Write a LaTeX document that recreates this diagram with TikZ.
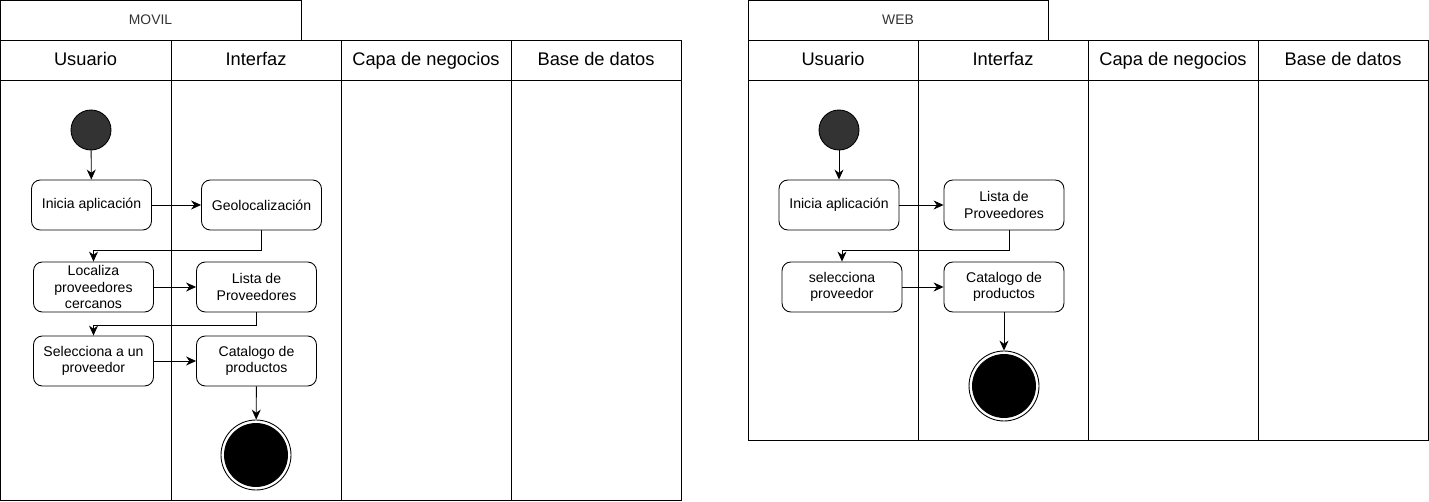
\documentclass[tikz,border=0pt]{standalone}
\usepackage{fontspec}
\setmainfont{Liberation Sans}
\usetikzlibrary{positioning}
\usetikzlibrary {arrows.meta}
\tikzset{actividad/.style={rectangle,rounded corners=5pt,draw=black,fill=white,
inner sep=2pt,minimum height=10mm, minimum width=24mm,align=center,
font=\fontsize{8}{9.2}\selectfont}}
\tikzset{inicio/.style={circle,draw=black,fill=black!80,
inner sep=0pt,minimum size=8mm}}
\tikzset{fin/.style={circle,draw=black,fill=white,inner sep=0pt,minimum size=14mm,
path picture={\filldraw[fill=black,draw=black] (path picture bounding box.center) circle (6.3mm);}}}
\tikzset{carril/.style={draw=none,text height=1.5ex,text depth=0.4ex,
font=\fontsize{10.4}{12}\selectfont}}
\tikzset{titulo/.style={draw=none,text=black!80,font=\fontsize{7.9}{9}\selectfont}}
\tikzset{flecha/.style={line width=0.5pt,-{Stealth[length=2mm,width=1.8mm]}}}

\begin{document}
\begin{tikzpicture}[x=0.02cm,y=-0.02cm,line width=0.5pt]
        \useasboundingbox (0,0) rectangle (1429,502);

        % MOVIL
        \draw (0,0) rectangle (301,40);
        \draw (0,40) rectangle (681,500);
        \draw (0,80) -- (681,80);
        \foreach \x in {171,341,511} \draw (\x,40) -- (\x,500);
        \node[titulo] (movil) at (150.5,20) {MOVIL};
        \node[carril] (movUsu) at (85.5,60) {Usuario};
        \node[carril] (movInt) at (256,60) {Interfaz};
        \node[carril] (movNeg) at (426,60) {Capa de negocios};
        \node[carril] (movDat) at (596,60) {Base de datos};

        \node[inicio] (startA) at (91,130) {};
        \node[actividad] (boxA) at (91.5,205) {Inicia aplicación};
        \node[actividad] (boxB) at (261.5,205) {Geolocalización};
        \node[actividad] (boxC) at (93.5,287) {Localiza\\proveedores\\cercanos};
        \node[actividad] (boxD) at (256.5,287) {Lista de\\Proveedores};
        \node[actividad] (boxE) at (93.5,361) {Selecciona a un\\proveedor};
        \node[actividad] (boxF) at (256.5,361) {Catalogo de\\productos};
        \node[fin] (endA) at (256,455) {};

        \draw[flecha] (startA) -- (boxA);
        \draw[flecha] (boxA) -- (boxB);
        \draw[flecha] (boxB.south) -- ++(0,20) -| (boxC.north);
        \draw[flecha] (boxC) -- (boxD);
        \draw[flecha] (boxD.south) -- ++(0,13) -| (boxE.north);
        \draw[flecha] (boxE) -- (boxF);
        \draw[flecha] (boxF) -- (endA);

        % WEB
        \draw (748,0) rectangle (1048,40);
        \draw (748,40) rectangle (1428,440);
        \draw (748,80) -- (1428,80);
        \foreach \x in {918,1088,1258} \draw (\x,40) -- (\x,440);
        \node[titulo] (web) at (898,20) {WEB};
        \node[carril] (webUsu) at (833,60) {Usuario};
        \node[carril] (webInt) at (1003,60) {Interfaz};
        \node[carril] (webNeg) at (1173,60) {Capa de negocios};
        \node[carril] (webDat) at (1343,60) {Base de datos};

        \node[inicio] (startB) at (839,130) {};
        \node[actividad] (boxG) at (839,205) {Inicia aplicación};
        \node[actividad] (boxH) at (1004,205) {Lista de\\Proveedores};
        \node[actividad] (boxI) at (842,287) {selecciona\\proveedor};
        \node[actividad] (boxJ) at (1004,287) {Catalogo de\\productos};
        \node[fin] (endB) at (1004,386) {};

        \draw[flecha] (startB) -- (boxG);
        \draw[flecha] (boxG) -- (boxH);
        \draw[flecha] ([xshift=5*0.02cm]boxH.south) -- ++(0,20) -| (boxI.north);
        \draw[flecha] (boxI) -- (boxJ);
        \draw[flecha] (boxJ) -- (endB);

    \end{tikzpicture}
\end{document}
